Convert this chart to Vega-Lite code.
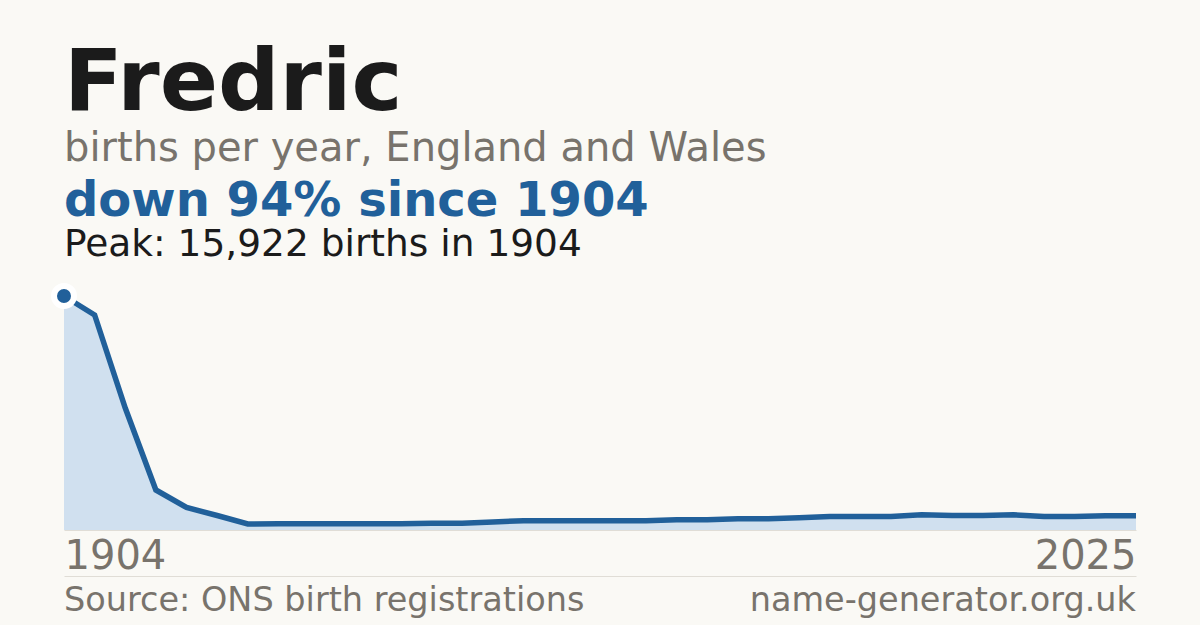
{
  "$schema": "https://vega.github.io/schema/vega-lite/v6.json",
  "background": "#faf9f5",
  "padding": {"left": 42, "right": 64, "top": 40, "bottom": 0},
  "title": {
    "text": "Fredric",
    "subtitle": "births per year, England and Wales",
    "anchor": "start",
    "frame": "group",
    "font": "DejaVu Sans",
    "fontSize": 86,
    "fontWeight": "bold",
    "color": "#1b1b1b",
    "subtitleFont": "DejaVu Sans",
    "subtitleFontSize": 40,
    "subtitleColor": "#78736c",
    "subtitlePadding": 1,
    "offset": 8
  },
  "datasets": {
    "births": [
      {"year": 1904, "births": 15922},
      {"year": 1907, "births": 14629},
      {"year": 1911, "births": 8301},
      {"year": 1914, "births": 2722},
      {"year": 1918, "births": 1531},
      {"year": 1921, "births": 987},
      {"year": 1925, "births": 408},
      {"year": 1928, "births": 422},
      {"year": 1932, "births": 422},
      {"year": 1935, "births": 422},
      {"year": 1939, "births": 422},
      {"year": 1942, "births": 422},
      {"year": 1945, "births": 463},
      {"year": 1949, "births": 463},
      {"year": 1952, "births": 544},
      {"year": 1956, "births": 633},
      {"year": 1959, "births": 633},
      {"year": 1963, "births": 633},
      {"year": 1966, "births": 633},
      {"year": 1970, "births": 633},
      {"year": 1973, "births": 701},
      {"year": 1977, "births": 701},
      {"year": 1980, "births": 769},
      {"year": 1984, "births": 769},
      {"year": 1987, "births": 830},
      {"year": 1990, "births": 919},
      {"year": 1994, "births": 919},
      {"year": 1997, "births": 919},
      {"year": 2001, "births": 1034},
      {"year": 2004, "births": 987},
      {"year": 2008, "births": 987},
      {"year": 2011, "births": 1034},
      {"year": 2015, "births": 919},
      {"year": 2018, "births": 919},
      {"year": 2022, "births": 973},
      {"year": 2025, "births": 973}
    ],
    "footer": [
      {"label": "Source: ONS birth registrations", "side": "start"},
      {"label": "name-generator.org.uk", "side": "end"}
    ]
  },
  "spacing": -13,
  "vconcat": [
    {
      "width": 1072,
      "height": 234,
      "title": {
        "text": "down 94% since 1904",
        "subtitle": "Peak: 15,922 births in 1904",
        "anchor": "start",
        "frame": "group",
        "font": "DejaVu Sans",
        "fontSize": 48,
        "fontWeight": "bold",
        "color": "#21609a",
        "subtitleFont": "DejaVu Sans",
        "subtitleFontSize": 37.5,
        "subtitleColor": "#1b1b1b",
        "subtitlePadding": 0,
        "offset": 11
      },
      "data": {"name": "births"},
      "encoding": {
        "x": {
          "field": "year",
          "type": "ordinal",
          "scale": {"type": "point", "padding": 0},
          "axis": {
            "values": [1904, 2025],
            "labelFlush": true,
            "labelAngle": 0,
            "labelFontSize": 40,
            "labelColor": "#78736c",
            "labelPadding": 6,
            "ticks": false,
            "domainColor": "#e0ddd6",
            "domainWidth": 1,
            "grid": false,
            "title": null
          }
        },
        "y": {
          "field": "births",
          "type": "quantitative",
          "scale": {"domain": [0, 15922], "nice": false, "zero": true},
          "axis": null
        }
      },
      "layer": [
        {"mark": {"type": "area", "color": "#d0e0ef", "opacity": 1}},
        {"mark": {"type": "line", "color": "#21609a", "strokeWidth": 5.5}},
        {
          "transform": [{"filter": "datum.year === 1904"}],
          "mark": {
            "type": "point",
            "filled": true,
            "shape": "circle",
            "size": 400,
            "fill": "#21609a",
            "stroke": "#ffffff",
            "strokeWidth": 6,
            "opacity": 1
          }
        }
      ]
    },
    {
      "width": 1072,
      "height": 49,
      "data": {"name": "footer"},
      "encoding": {
        "x": {
          "field": "side",
          "type": "nominal",
          "scale": {"type": "point", "domain": ["start", "end"], "padding": 0},
          "axis": {
            "orient": "top",
            "labels": false,
            "ticks": false,
            "grid": false,
            "domainColor": "#e0ddd6",
            "domainWidth": 1,
            "title": null
          }
        },
        "text": {"field": "label"}
      },
      "layer": [
        {
          "transform": [{"filter": "datum.side === 'start'"}],
          "mark": {"type": "text", "align": "left", "baseline": "middle", "fontSize": 33.5, "color": "#78736c"}
        },
        {
          "transform": [{"filter": "datum.side === 'end'"}],
          "mark": {"type": "text", "align": "right", "baseline": "middle", "fontSize": 33.5, "color": "#78736c"}
        }
      ]
    }
  ],
  "config": {
    "view": {"stroke": null},
    "font": "DejaVu Sans"
  }
}
